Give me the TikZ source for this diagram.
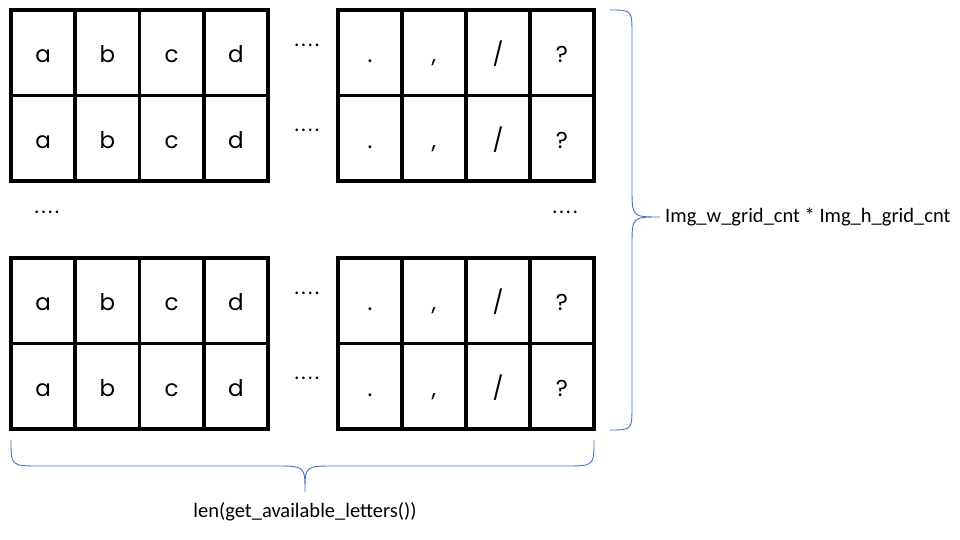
\documentclass[tikz,border=0pt]{standalone}
\usepackage{fontspec}
\setmainfont{Carlito}
\newfontfamily\cellfont{Poppins}
\usetikzlibrary{positioning}
\definecolor{bracecol}{HTML}{4472C4}
\newcommand\fourdots{.\kern2.4pt.\kern2.4pt.\kern2.4pt.}
\tikzset{
  cell/.style={draw, line width=3.6pt, minimum height=85.5pt, inner sep=0pt,
    text height=20pt, text depth=0pt, font=\cellfont\fontsize{23}{27}\selectfont},
  gap/.style={inner sep=0pt, anchor=base, font=\cellfont\fontsize{21}{25}\selectfont},
  bracket/.style={draw=bracecol, line width=0.9pt},
  tag/.style={inner sep=0pt, font=\fontsize{20.5}{24}\selectfont}
}

\begin{document}
\begin{tikzpicture}[x=1pt,y=1pt]
	%%%%% GRID %%%%%
	\useasboundingbox (0,0) rectangle (960,540);
	\def\lx{11}
	\def\lw{64.25}
	\def\rx{338}
	\def\rw{64}

	\foreach \r/\yc in {1/487.25,2/401.75,3/239.25,4/153.75}{
		\foreach \t [count=\k] in {a,b,c,d}
			\node[cell, minimum width=\lw pt] (L\r\k) at ({\lx+\lw*(\k-0.5)},\yc) {\t};
		\foreach \t [count=\k] in {.,{,},/,?}
			\node[cell, minimum width=\rw pt] (R\r\k) at ({\rx+\rw*(\k-0.5)},\yc) {\t};
	}

	%%%%% DOTS %%%%%
	\node[gap] (dots1) at (307,493) {\fourdots};
	\node[gap] (dots2) at (307,408) {\fourdots};
	\node[gap] (dots3) at (307,245) {\fourdots};
	\node[gap] (dots4) at (307,160) {\fourdots};
	\node[gap] (dotsl) at (47,326) {\fourdots};
	\node[gap] (dotsr) at (565,326) {\fourdots};

	%%%%% BRACES %%%%%
	\coordinate (btip) at (305,48);
	\coordinate (rtip) at (660,323);
	\draw[bracket] (11,100) .. controls (11,74) .. (40,74) -- (275,74)
		.. controls (305,74) .. (btip) .. controls (305,74) .. (335,74)
		-- (565,74) .. controls (594,74) .. (594,100);
	\draw[bracket] (610,530) .. controls (632,530) .. (632,505) -- (632,352)
		.. controls (632,323) .. (rtip) .. controls (632,323) .. (632,294)
		-- (632,135) .. controls (632,110) .. (610,110);

	\node[tag, below=10pt of btip] (lenlbl) {len(get\_available\_letters())};
	\node[tag, right=5pt of rtip] (cntlbl) {Img\_w\_grid\_cnt * Img\_h\_grid\_cnt};
\end{tikzpicture}
\end{document}
